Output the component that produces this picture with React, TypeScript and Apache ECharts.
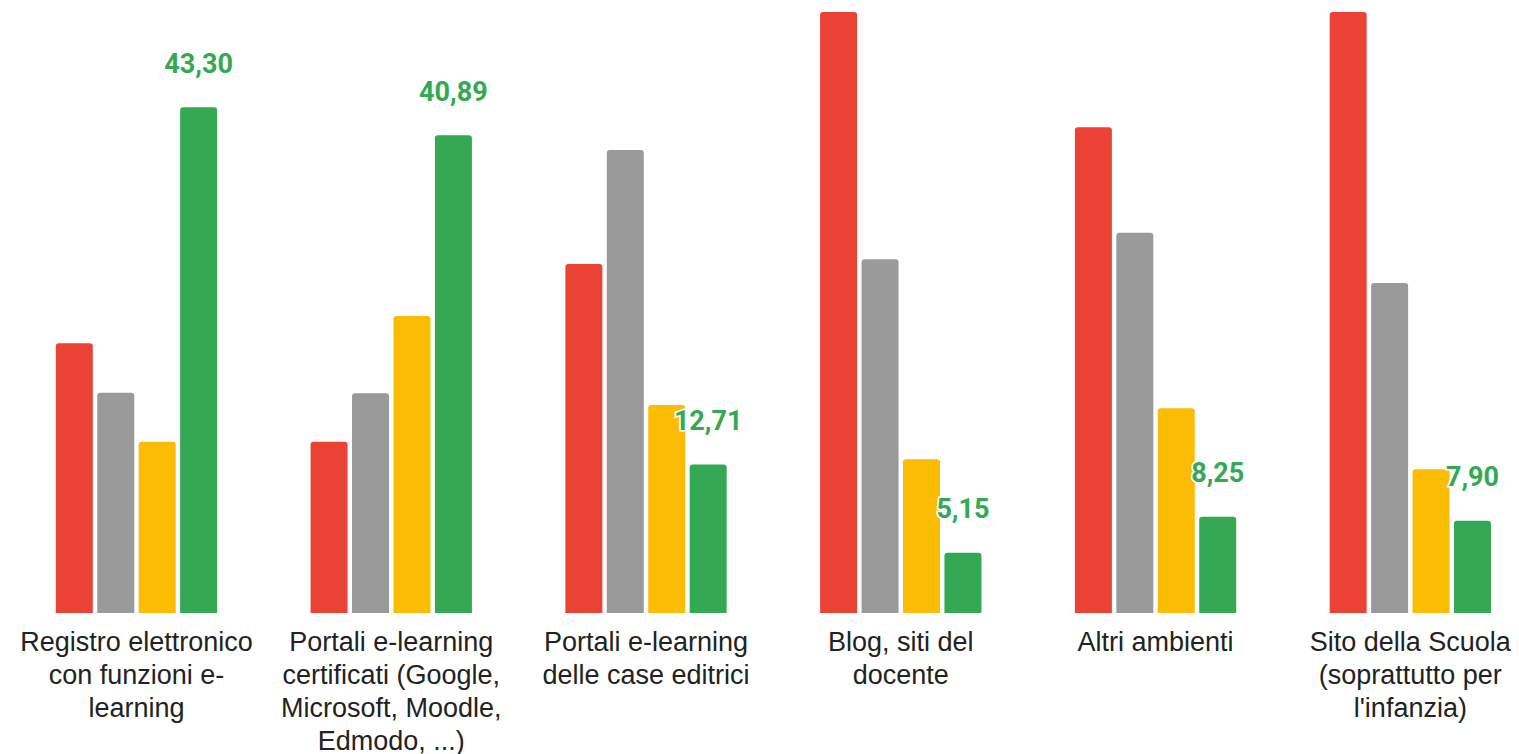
import React, { useEffect, useRef } from "react";
import * as echarts from "echarts";

const categories = [
  "Registro elettronico\ncon funzioni e-\nlearning",
  "Portali e-learning\ncertificati (Google,\nMicrosoft, Moodle,\nEdmodo, ...)",
  "Portali e-learning\ndelle case editrici",
  "Blog, siti del\ndocente",
  "Altri ambienti",
  "Sito della Scuola\n(soprattutto per\nl'infanzia)",
];

const redValues = [23.09, 14.67, 29.88, 51.45, 41.58, 51.45];
const grayValues = [18.86, 18.81, 39.64, 30.28, 32.56, 28.25];
const yellowValues = [14.67, 25.43, 17.81, 13.16, 17.52, 12.3];
const greenValues = [43.3, 40.89, 12.71, 5.15, 8.25, 7.9];

const colors = ["#EA4335", "#9A9A9A", "#FBBC04", "#34A853"];

export default function App() {
  const ref = useRef<HTMLDivElement>(null);
  useEffect(() => {
    if (!ref.current) return;
    const chart = echarts.init(ref.current, undefined, { renderer: "svg" });
    const mk = (data: number[], color: string, withLabel: boolean) => ({
      type: "bar",
      data,
      barWidth: 37,
      barGap: "12%",
      itemStyle: { color, borderRadius: [3, 3, 0, 0] },
      label: withLabel
        ? {
            show: true,
            position: "top",
            distance: 30,
            formatter: (p: any) => p.value.toFixed(2).replace(".", ","),
            color: "#34A853",
            fontFamily: "Roboto",
            fontWeight: "bold",
            fontSize: 27,
            textBorderColor: "#ffffff",
            textBorderWidth: 3,
          }
        : { show: false },
    });
    chart.setOption({
      animation: false,
      backgroundColor: "#ffffff",
      grid: {
        left: 9.1,
        width: 1528.6,
        top: 12,
        height: 601,
        containLabel: false,
        outerBoundsMode: "none",
      },
      xAxis: {
        type: "category",
        data: categories,
        axisLine: { show: false },
        axisTick: { show: false },
        axisLabel: {
          interval: 0,
          margin: 12,
          color: "#222222",
          fontFamily: "Liberation Sans",
          fontSize: 27,
          lineHeight: 33,
        },
      },
      yAxis: {
        type: "value",
        min: 0,
        max: 51.45,
        show: false,
        splitLine: { show: false },
      },
      series: [
        mk(redValues, colors[0], false),
        mk(grayValues, colors[1], false),
        mk(yellowValues, colors[2], false),
        mk(greenValues, colors[3], true),
      ],
    });
    return () => chart.dispose();
  }, []);
  return (
    <div
      style={{
        position: "fixed",
        left: 0,
        top: 0,
        width: 1519,
        height: 754,
        overflow: "hidden",
        background: "#fff",
      }}
    >
      <div ref={ref} style={{ width: 1560, height: 754 }} />
    </div>
  );
}
